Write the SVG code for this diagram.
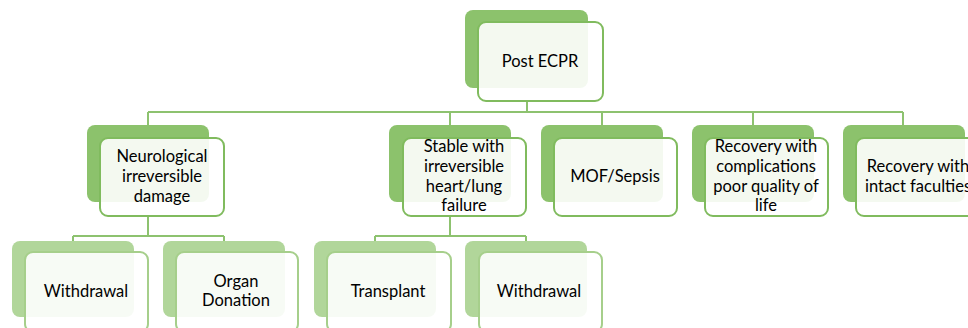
<svg xmlns="http://www.w3.org/2000/svg" width="968" height="328" viewBox="0 0 968 328">
<style>
.b1{fill:#8cc26c}
.f1{fill:#ffffff;fill-opacity:0.9;stroke:#80bb5e;stroke-width:2}
.b2{fill:#b1d69a}
.f2{fill:#ffffff;fill-opacity:0.9;stroke:#a6cf8b;stroke-width:2}
.c{fill:none;stroke:#8dc26f;stroke-width:2}
text{font-family:Lato,"Liberation Sans",sans-serif;font-size:16.5px;fill:#000;text-anchor:middle;dominant-baseline:central}
</style>
<rect width="968" height="328" fill="#fff"/>
<g id="connectors">
<path class="c" d="M527 101V112M148 112H903M148 112V125M450 112V125M602 112V125M753 112V125M903 112V125"/>
<path class="c" d="M148 216V236M73 236H224M73 236V241M224 236V241"/>
<path class="c" d="M450 216V236M375 236H526M375 236V241M526 236V241"/>
</g>
<g id="n-post">
<rect class="b1" x="465" y="10" width="123" height="78" rx="8"/>
<rect class="f1" x="478" y="22" width="125" height="79" rx="8"/>
<text x="540" y="61">Post ECPR</text>
</g>
<g id="n-neuro">
<rect class="b1" x="87" y="125" width="122" height="77" rx="8"/>
<rect class="f1" x="100" y="138" width="124" height="78" rx="8"/>
<text x="162" y="156">Neurological</text>
<text x="162" y="176">irreversible</text>
<text x="162" y="196">damage</text>
</g>
<g id="n-stable">
<rect class="b1" x="389" y="125" width="122" height="77" rx="8"/>
<rect class="f1" x="403" y="138" width="123" height="78" rx="8"/>
<text x="464" y="146">Stable with</text>
<text x="464" y="166">irreversible</text>
<text x="464" y="186">heart/lung</text>
<text x="464" y="205">failure</text>
</g>
<g id="n-mof">
<rect class="b1" x="541" y="125" width="122" height="77" rx="8"/>
<rect class="f1" x="554" y="138" width="123" height="78" rx="8"/>
<text x="615" y="176">MOF/Sepsis</text>
</g>
<g id="n-recomp">
<rect class="b1" x="692" y="125" width="122" height="77" rx="8"/>
<rect class="f1" x="705" y="138" width="123" height="78" rx="8"/>
<text x="766" y="146">Recovery with</text>
<text x="766" y="166">complications</text>
<text x="766" y="186">poor quality of</text>
<text x="766" y="205">life</text>
</g>
<g id="n-reintact">
<rect class="b1" x="843" y="125" width="122" height="77" rx="8"/>
<rect class="f1" x="856" y="138" width="124" height="78" rx="8"/>
<text x="918" y="166">Recovery with</text>
<text x="918" y="186">intact faculties</text>
</g>
<g id="n-withdrawal1">
<rect class="b2" x="12" y="241" width="122" height="76" rx="8"/>
<rect class="f2" x="25" y="252" width="123" height="80" rx="8"/>
<text x="86" y="291">Withdrawal</text>
</g>
<g id="n-organ">
<rect class="b2" x="163" y="241" width="122" height="76" rx="8"/>
<rect class="f2" x="176" y="252" width="122" height="80" rx="8"/>
<text x="236" y="281">Organ</text>
<text x="236" y="300">Donation</text>
</g>
<g id="n-transplant">
<rect class="b2" x="314" y="241" width="122" height="76" rx="8"/>
<rect class="f2" x="327" y="252" width="124" height="80" rx="8"/>
<text x="388" y="291">Transplant</text>
</g>
<g id="n-withdrawal2">
<rect class="b2" x="465" y="241" width="122" height="76" rx="8"/>
<rect class="f2" x="479" y="252" width="123" height="80" rx="8"/>
<text x="539" y="291">Withdrawal</text>
</g>
</svg>
